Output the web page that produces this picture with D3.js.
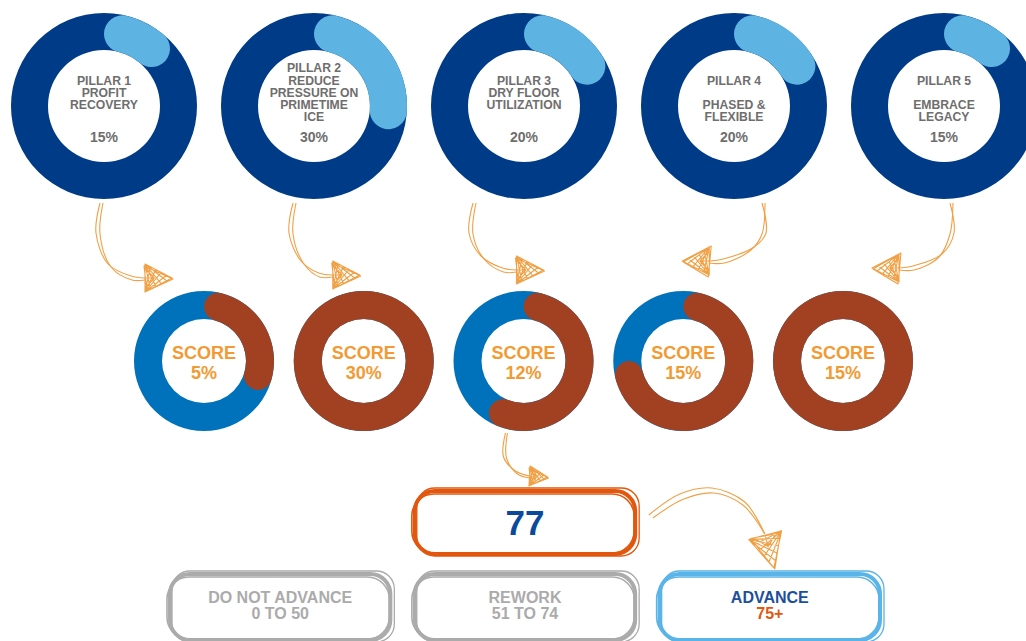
<!DOCTYPE html>
<html>
<head>
<meta charset="utf-8">
<script src="https://cdn.jsdelivr.net/npm/d3@7"></script>
<style>
body { margin: 0; background: #fff; }
svg { display: block; font-family: "Liberation Sans", Arial, sans-serif; font-weight: bold; }
</style>
</head>
<body>
<svg width="1026" height="641"></svg>
<script>
// pillar labels, one slot per text line (blank slots keep the spacing)
var pillarLabels = [
	["", "PILLAR 1", "PROFIT", "RECOVERY", ""],
	["PILLAR 2", "REDUCE", "PRESSURE ON", "PRIMETIME", "ICE"],
	["", "PILLAR 3", "DRY FLOOR", "UTILIZATION", ""],
	["", "PILLAR 4", "", "PHASED &", "FLEXIBLE"],
	["", "PILLAR 5", "", "EMBRACE", "LEGACY"]
];
var weights = [15, 30, 20, 20, 15];
var scores = [5, 30, 12, 15, 15];
var total = 77;
var bands = ["DO NOT ADVANCE", "REWORK", "ADVANCE"];
var ranges = ["0 TO 50", "51 TO 74", "75+"];

var svg = d3.select("svg"),
	tau = 2 * Math.PI;

var navy = "#003b88", lightBlue = "#5db4e3", grey = "#6e6e6e",
	scoreBlue = "#0072bc", brown = "#a24121", orange = "#f39a33",
	arrowCol = "#f0a045", boxOrange = "#e2570e";

var idx = d3.range(weights.length);
var xTop = d3.scalePoint().domain(idx).range([104, 944]);
var xScore = d3.scalePoint().domain(idx).range([204, 843]);
var xBand = d3.scaleBand().domain(bands).range([170, 880]).paddingInner(0.1);
var topY = 106, scoreY = 361;

// ---- pillar donuts
var ringTop = d3.arc().innerRadius(56).outerRadius(93).startAngle(0);
var weightArc = d3.arc().innerRadius(56).outerRadius(93).startAngle(0).cornerRadius(18.5);

var pillar = svg.selectAll("g.pillar")
	.data(idx)
	.enter().append("g")
	.attr("class", "pillar")
	.attr("transform", function(i) { return "translate(" + xTop(i) + "," + topY + ")"; });

pillar.append("path")
	.attr("d", ringTop.endAngle(tau)())
	.attr("fill", navy);

pillar.append("path")
	.attr("d", function(i) { return weightArc.endAngle(weights[i] / 100 * tau)(); })
	.attr("fill", lightBlue);

pillar.selectAll("text.line")
	.data(function(i) { return pillarLabels[i]; })
	.enter().append("text")
	.attr("class", "line")
	.attr("text-anchor", "middle")
	.attr("y", function(d, j) { return -38 + j * 12.3; })
	.attr("dy", "0.35em")
	.attr("font-size", 12.2)
	.attr("fill", grey)
	.text(function(d) { return d; });

pillar.append("text")
	.attr("text-anchor", "middle")
	.attr("y", 31)
	.attr("dy", "0.35em")
	.attr("font-size", 14)
	.attr("fill", grey)
	.text(function(i) { return weights[i] + "%"; });

// ---- score donuts (share of the pillar weight achieved)
var ringScore = d3.arc().innerRadius(42).outerRadius(70).startAngle(0);
var scoreArc = d3.arc().innerRadius(42).outerRadius(70).startAngle(0).cornerRadius(14);

var score = svg.selectAll("g.score")
	.data(idx)
	.enter().append("g")
	.attr("class", "score")
	.attr("transform", function(i) { return "translate(" + xScore(i) + "," + scoreY + ")"; });

score.append("path")
	.attr("d", ringScore.endAngle(tau)())
	.attr("fill", scoreBlue);

score.append("path")
	.attr("d", function(i) { return scoreArc.endAngle(Math.min(1, scores[i] / weights[i]) * tau)(); })
	.attr("fill", brown);

score.append("text")
	.attr("text-anchor", "middle")
	.attr("y", -8)
	.attr("dy", "0.35em")
	.attr("font-size", 18)
	.attr("fill", orange)
	.text("SCORE");

score.append("text")
	.attr("text-anchor", "middle")
	.attr("y", 12)
	.attr("dy", "0.35em")
	.attr("font-size", 18)
	.attr("fill", orange)
	.text(function(i) { return scores[i] + "%"; });

// ---- sketchy arrows
var curve = d3.line().curve(d3.curveCatmullRom.alpha(0.5));

function arrowHead(g, tip, from, len, half) {
	var dx = tip[0] - from[0], dy = tip[1] - from[1],
		l = Math.sqrt(dx * dx + dy * dy),
		ux = dx / l, uy = dy / l, nx = -uy, ny = ux;
	var b1 = [tip[0] - ux * len + nx * half, tip[1] - uy * len + ny * half],
		b2 = [tip[0] - ux * len - nx * half, tip[1] - uy * len - ny * half];
	var lerp = function(a, b, t) { return [a[0] + (b[0] - a[0]) * t, a[1] + (b[1] - a[1]) * t]; };
	var p = d3.path();
	p.moveTo(b1[0], b1[1]); p.lineTo(tip[0], tip[1]); p.lineTo(b2[0], b2[1]); p.closePath();
	p.moveTo(b1[0] + 2, b1[1] - 1); p.lineTo(tip[0] + 1, tip[1] + 1); p.lineTo(b2[0] - 1, b2[1] + 2); p.closePath();
	[0.2, 0.4, 0.6, 0.8].forEach(function(t) {
		var a = lerp(b2, tip, t), b = lerp(b1, tip, t);
		p.moveTo(b1[0], b1[1]); p.lineTo(a[0], a[1]);
		p.moveTo(b2[0], b2[1]); p.lineTo(b[0], b[1]);
	});
	var c = lerp(lerp(b1, b2, 0.5), tip, 0.35);
	[0.15, 0.5, 0.85].forEach(function(t) {
		var a = lerp(b1, b2, t);
		p.moveTo(a[0], a[1]); p.lineTo(c[0], c[1]);
	});
	g.append("path").attr("d", p.toString())
		.attr("fill", "none").attr("stroke", arrowCol).attr("stroke-width", 1.1)
		.attr("stroke-linejoin", "round");
}

function arrow(pts, offs, tip, headLen, headHalf) {
	var g = svg.append("g");
	g.append("path").attr("d", curve(pts))
		.attr("fill", "none").attr("stroke", arrowCol).attr("stroke-width", 1.1);
	g.append("path").attr("d", curve(pts.map(function(p, k) { return [p[0] + offs[k][0], p[1] + offs[k][1]]; })))
		.attr("fill", "none").attr("stroke", arrowCol).attr("stroke-width", 1.1);
	arrowHead(g, tip, pts[pts.length - 1], headLen, headHalf);
}

var arrowFrom = [-4, -21, -51, 28, 6];
var arrowTo = [-32, -4, 20, -1, 29];
var arrowTipDy = [-83, -86, -91, -100, -93];

idx.forEach(function(i) {
	var dir = i < 3 ? 1 : -1,
		sx = xTop(i) + arrowFrom[i], sy = topY + 97,
		tx = xScore(i) + arrowTo[i], ty = scoreY + arrowTipDy[i],
		bx = tx - 27 * dir;
	var pts = [[sx, sy], [sx - 4 * dir, sy + 30], [sx + 8 * dir, ty - 14], [bx - 14 * dir, ty - 2], [bx, ty]];
	var offs = [[3, 0], [4 * dir, 1], [3 * dir, 3], [1, 4], [0, 2]];
	arrow(pts, offs, [tx, ty], 27, 14);
});

// score 3 -> total box
var s3 = xScore(2);
arrow([[s3 - 18, scoreY + 72], [s3 - 20, scoreY + 96], [s3 - 8, scoreY + 110], [s3 + 6, scoreY + 115]],
	[[2, 0], [3, 1], [2, 3], [0, 2]], [s3 + 24, scoreY + 116], 18, 10);

// total box -> ADVANCE box
var adv = xBand("ADVANCE") + xBand.bandwidth() / 2;
arrow([[adv - 121, 515], [adv - 90, 494], [adv - 58, 488], [adv - 25, 502], [adv - 5, 534]],
	[[4, 3], [4, 5], [2, 5], [-2, 3], [0, 0]], [adv + 4, 568], 34, 17);

// ---- sketchy rounded boxes
function roundRect(x, y, w, h, r) {
	var p = d3.path();
	p.moveTo(x + r, y);
	p.lineTo(x + w - r, y); p.arcTo(x + w, y, x + w, y + r, r);
	p.lineTo(x + w, y + h - r); p.arcTo(x + w, y + h, x + w - r, y + h, r);
	p.lineTo(x + r, y + h); p.arcTo(x, y + h, x, y + h - r, r);
	p.lineTo(x, y + r); p.arcTo(x, y, x + r, y, r);
	p.closePath();
	return p.toString();
}

function sketchBox(x, y, w, h, col) {
	var g = svg.append("g").attr("fill", "none").attr("stroke", col);
	g.append("path").attr("d", roundRect(x, y, w, h, 20)).attr("stroke-width", 4);
	g.append("path").attr("d", roundRect(x - 3, y + 3, w + 2, h - 4, 22)).attr("stroke-width", 1.6);
	g.append("path").attr("d", roundRect(x + 2, y - 3, w + 2, h + 5, 18)).attr("stroke-width", 1.3);
	return g;
}

var bw = xBand.bandwidth();
var rw = xBand("REWORK");
sketchBox(rw, 491, bw, 63, boxOrange);
svg.append("text")
	.attr("x", rw + bw / 2).attr("y", 523).attr("dy", "0.35em")
	.attr("text-anchor", "middle").attr("font-size", 35).attr("fill", "#0b4a9b")
	.text(total);

var bandCols = ["#ababab", "#ababab", "#5ab4e8"];
var titleCols = ["#ababab", "#ababab", "#1c4f9c"];
var rangeCols = ["#ababab", "#ababab", boxOrange];

bands.forEach(function(b, i) {
	var x = xBand(b);
	sketchBox(x, 574, bw, 66, bandCols[i]);
	svg.append("text")
		.attr("x", x + bw / 2).attr("y", 597).attr("dy", "0.35em")
		.attr("text-anchor", "middle").attr("font-size", 16).attr("fill", titleCols[i])
		.text(b);
	svg.append("text")
		.attr("x", x + bw / 2).attr("y", 613).attr("dy", "0.35em")
		.attr("text-anchor", "middle").attr("font-size", 16).attr("fill", rangeCols[i])
		.text(ranges[i]);
});
</script>
</body>
</html>
